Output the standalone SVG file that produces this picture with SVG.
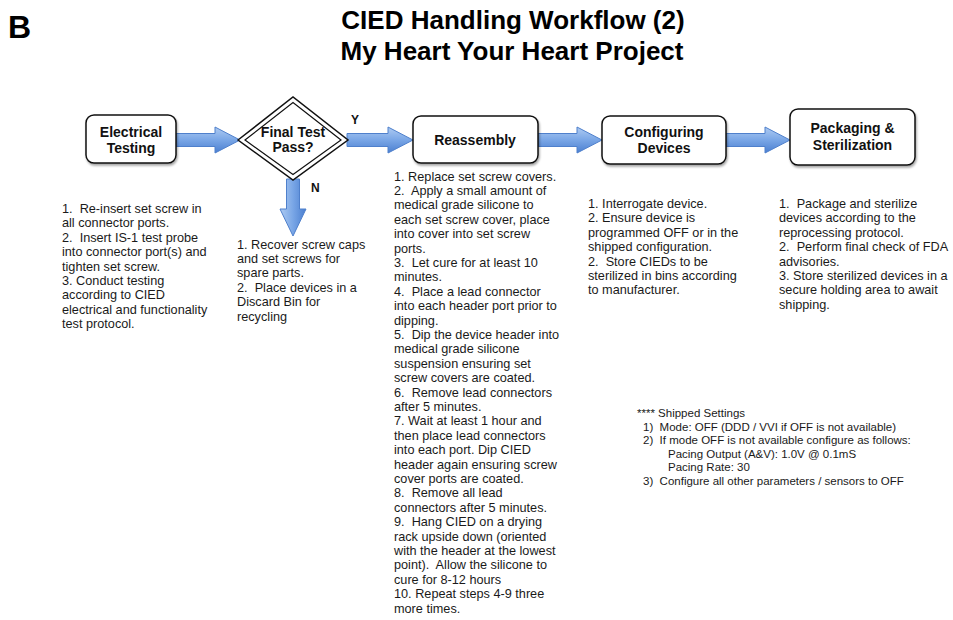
<svg xmlns="http://www.w3.org/2000/svg" width="953" height="620" viewBox="0 0 953 620">
<defs>
<linearGradient id="gh" x1="0" y1="0" x2="0" y2="1">
<stop offset="0" stop-color="#aecbf2"/>
<stop offset="0.5" stop-color="#79a6e6"/>
<stop offset="1" stop-color="#4b7fd0"/>
</linearGradient>
<linearGradient id="gv" x1="0" y1="0" x2="1" y2="0">
<stop offset="0" stop-color="#aecbf2"/>
<stop offset="0.5" stop-color="#79a6e6"/>
<stop offset="1" stop-color="#4b7fd0"/>
</linearGradient>
<filter id="sh" x="-10%" y="-10%" width="125%" height="130%">
<feDropShadow dx="1" dy="2" stdDeviation="1.3" flood-color="#000" flood-opacity="0.35"/>
</filter>
</defs>
<style>
.box{fill:#fff;stroke:#111;stroke-width:1.5;filter:url(#sh)}
.lbl{font-family:"Liberation Sans",Arial,sans-serif;font-weight:bold;font-size:14px;fill:#111;text-anchor:middle}
.body{font-family:"Liberation Sans",Arial,sans-serif;font-size:12.7px;fill:#1a1a1a}
.small{font-family:"Liberation Sans",Arial,sans-serif;font-size:11.5px;fill:#1a1a1a}
.title{font-family:"Liberation Sans",Arial,sans-serif;font-weight:bold;font-size:26px;fill:#000;text-anchor:middle}
.yn{font-family:"Liberation Sans",Arial,sans-serif;font-weight:bold;font-size:12px;fill:#111}
.arr{stroke:#4f80cc;stroke-width:1;stroke-linejoin:round}
</style>
<rect width="953" height="620" fill="#fff"/>
<text x="8" y="38" font-family="Liberation Sans, Arial, sans-serif" font-weight="bold" font-size="32" fill="#000">B</text>
<text class="title" x="513" y="29">CIED Handling Workflow (2)</text>
<text class="title" x="512" y="60">My Heart Your Heart Project</text>

<g id="connectors">
<path class="arr" fill="url(#gh)" d="M176,133.5 H215 V127 L240,140 L215,153 V146.5 H176 Z"/>
<path class="arr" fill="url(#gh)" d="M347,133.5 H388 V127 L413,140 L388,153 V146.5 H347 Z"/>
<path class="arr" fill="url(#gh)" d="M538,133.5 H577 V127 L602,140 L577,153 V146.5 H538 Z"/>
<path class="arr" fill="url(#gh)" d="M726,133.5 H765 V127 L790,140 L765,153 V146.5 H726 Z"/>
<path class="arr" fill="url(#gv)" d="M286.5,179 V209 H280 L293,236 L306,209 H299.5 V179 Z"/>
<text class="yn" x="351" y="124">Y</text>
<text class="yn" x="311" y="192">N</text>
</g>

<g id="electrical">
<rect class="box" x="86" y="115" width="90" height="48" rx="8"/>
<text class="lbl" x="131" y="137">Electrical</text>
<text class="lbl" x="131" y="153">Testing</text>
<text class="body" x="62" y="213" xml:space="preserve"><tspan x="62" y="213">1.  Re-insert set screw in</tspan><tspan x="62" y="227.4">all connector ports.</tspan><tspan x="62" y="241.8">2.  Insert IS-1 test probe</tspan><tspan x="62" y="256.2">into connector port(s) and</tspan><tspan x="62" y="270.6">tighten set screw.</tspan><tspan x="62" y="285">3. Conduct testing</tspan><tspan x="62" y="299.4">according to CIED</tspan><tspan x="62" y="313.8">electrical and functionality</tspan><tspan x="62" y="328.2">test protocol.</tspan></text>
</g>

<g id="decision">
<polygon points="238,140 293,97 348,140 293,180" fill="#fff" stroke="#111" stroke-width="1.5"/>
<polygon points="245,140 293,102.5 341,140 293,174.5" fill="none" stroke="#111" stroke-width="1.2"/>
<text class="lbl" x="293" y="137">Final Test</text>
<text class="lbl" x="293" y="152">Pass?</text>
<text class="body" xml:space="preserve"><tspan x="237" y="248.6">1. Recover screw caps</tspan><tspan x="237" y="263">and set screws for</tspan><tspan x="237" y="277.4">spare parts.</tspan><tspan x="237" y="291.8">2.  Place devices in a</tspan><tspan x="237" y="306.2">Discard Bin for</tspan><tspan x="237" y="320.6">recycling</tspan></text>
</g>

<g id="reassembly">
<rect class="box" x="413" y="116" width="125" height="47" rx="8"/>
<text class="lbl" x="475" y="145">Reassembly</text>
<text class="body" xml:space="preserve"><tspan x="394" y="180.6">1. Replace set screw covers.</tspan><tspan x="394" y="195">2.  Apply a small amount of</tspan><tspan x="394" y="209.4">medical grade silicone to</tspan><tspan x="394" y="223.8">each set screw cover, place</tspan><tspan x="394" y="238.2">into cover into set screw</tspan><tspan x="394" y="252.6">ports.</tspan><tspan x="394" y="267">3.  Let cure for at least 10</tspan><tspan x="394" y="281.4">minutes.</tspan><tspan x="394" y="295.8">4.  Place a lead connector</tspan><tspan x="394" y="310.2">into each header port prior to</tspan><tspan x="394" y="324.6">dipping.</tspan><tspan x="394" y="339">5.  Dip the device header into</tspan><tspan x="394" y="353.4">medical grade silicone</tspan><tspan x="394" y="367.8">suspension ensuring set</tspan><tspan x="394" y="382.2">screw covers are coated.</tspan><tspan x="394" y="396.6">6.  Remove lead connectors</tspan><tspan x="394" y="411">after 5 minutes.</tspan><tspan x="394" y="425.4">7. Wait at least 1 hour and</tspan><tspan x="394" y="439.8">then place lead connectors</tspan><tspan x="394" y="454.2">into each port. Dip CIED</tspan><tspan x="394" y="468.6">header again ensuring screw</tspan><tspan x="394" y="483">cover ports are coated.</tspan><tspan x="394" y="497.4">8.  Remove all lead</tspan><tspan x="394" y="511.8">connectors after 5 minutes.</tspan><tspan x="394" y="526.2">9.  Hang CIED on a drying</tspan><tspan x="394" y="540.6">rack upside down (oriented</tspan><tspan x="394" y="555">with the header at the lowest</tspan><tspan x="394" y="569.4">point).  Allow the silicone to</tspan><tspan x="394" y="583.8">cure for 8-12 hours</tspan><tspan x="394" y="598.2">10. Repeat steps 4-9 three</tspan><tspan x="394" y="612.6">more times.</tspan></text>
</g>

<g id="configuring">
<rect class="box" x="602" y="116" width="124" height="48" rx="8"/>
<text class="lbl" x="664" y="137">Configuring</text>
<text class="lbl" x="664" y="153">Devices</text>
<text class="body" xml:space="preserve"><tspan x="588" y="208">1. Interrogate device.</tspan><tspan x="588" y="222.4">2. Ensure device is</tspan><tspan x="588" y="236.8">programmed OFF or in the</tspan><tspan x="588" y="251.2">shipped configuration.</tspan><tspan x="588" y="265.6">2.  Store CIEDs to be</tspan><tspan x="588" y="280">sterilized in bins according</tspan><tspan x="588" y="294.4">to manufacturer.</tspan></text>
</g>

<g id="packaging">
<rect class="box" x="790" y="109" width="125" height="56" rx="8"/>
<text class="lbl" x="852.5" y="133">Packaging &amp;</text>
<text class="lbl" x="852.5" y="150">Sterilization</text>
<text class="body" xml:space="preserve"><tspan x="779" y="208">1.  Package and sterilize</tspan><tspan x="779" y="222.4">devices according to the</tspan><tspan x="779" y="236.8">reprocessing protocol.</tspan><tspan x="779" y="251.2">2.  Perform final check of FDA</tspan><tspan x="779" y="265.6">advisories.</tspan><tspan x="779" y="280">3. Store sterilized devices in a</tspan><tspan x="779" y="294.4">secure holding area to await</tspan><tspan x="779" y="308.8">shipping.</tspan></text>
</g>

<g id="shipped-settings">
<text class="small" xml:space="preserve"><tspan x="637" y="417">**** Shipped Settings</tspan><tspan x="643" y="430.5">1)  Mode: OFF (DDD / VVI if OFF is not available)</tspan><tspan x="643" y="444">2)  If mode OFF is not available configure as follows:</tspan><tspan x="668" y="457.5">Pacing Output (A&amp;V): 1.0V @ 0.1mS</tspan><tspan x="668" y="471">Pacing Rate: 30</tspan><tspan x="643" y="484.5">3)  Configure all other parameters / sensors to OFF</tspan></text>
</g>
</svg>
